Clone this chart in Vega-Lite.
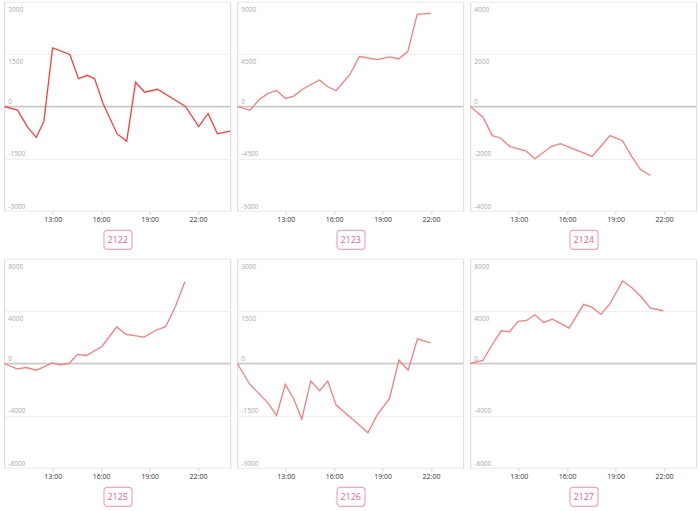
{
  "$schema": "https://vega.github.io/schema/vega-lite/v6.json",
  "padding": {"left": 2, "top": 1, "right": 0, "bottom": 0},
  "background": "white",
  "config": {
    "view": {"stroke": "#e0e0e0", "strokeWidth": 1.2},
    "font": "Open Sans",
    "axis": {"title": null, "labelFont": "Open Sans"}
  },
  "datasets": {
    "s": [
      {"p": "2122", "t": 10.0, "v": 0}, {"p": "2122", "t": 10.82, "v": -105}, {"p": "2122", "t": 11.44, "v": -590}, {"p": "2122", "t": 11.98, "v": -885}, {"p": "2122", "t": 12.45, "v": -428}, {"p": "2122", "t": 12.99, "v": 1685}, {"p": "2122", "t": 14.06, "v": 1495}, {"p": "2122", "t": 14.59, "v": 800}, {"p": "2122", "t": 15.15, "v": 895}, {"p": "2122", "t": 15.6, "v": 790}, {"p": "2122", "t": 16.11, "v": 95}, {"p": "2122", "t": 16.98, "v": -780}, {"p": "2122", "t": 17.58, "v": -1000}, {"p": "2122", "t": 18.13, "v": 695}, {"p": "2122", "t": 18.69, "v": 410}, {"p": "2122", "t": 19.49, "v": 495}, {"p": "2122", "t": 21.22, "v": 0}, {"p": "2122", "t": 22.04, "v": -580}, {"p": "2122", "t": 22.62, "v": -200}, {"p": "2122", "t": 23.2, "v": -780}, {"p": "2122", "t": 24.0, "v": -705},
      {"p": "2123", "t": 10.0, "v": 0}, {"p": "2123", "t": 10.78, "v": -317}, {"p": "2123", "t": 11.34, "v": 577}, {"p": "2123", "t": 11.91, "v": 1125}, {"p": "2123", "t": 12.43, "v": 1385}, {"p": "2123", "t": 12.99, "v": 692}, {"p": "2123", "t": 13.5, "v": 894}, {"p": "2123", "t": 14.01, "v": 1471}, {"p": "2123", "t": 15.09, "v": 2279}, {"p": "2123", "t": 15.6, "v": 1702}, {"p": "2123", "t": 16.11, "v": 1356}, {"p": "2123", "t": 16.96, "v": 2740}, {"p": "2123", "t": 17.56, "v": 4300}, {"p": "2123", "t": 18.69, "v": 4040}, {"p": "2123", "t": 19.43, "v": 4270}, {"p": "2123", "t": 19.99, "v": 4097}, {"p": "2123", "t": 20.56, "v": 4730}, {"p": "2123", "t": 21.14, "v": 7934}, {"p": "2123", "t": 21.98, "v": 8020},
      {"p": "2124", "t": 10.0, "v": 0}, {"p": "2124", "t": 10.78, "v": -410}, {"p": "2124", "t": 11.36, "v": -1115}, {"p": "2124", "t": 11.87, "v": -1205}, {"p": "2124", "t": 12.43, "v": -1525}, {"p": "2124", "t": 13.46, "v": -1705}, {"p": "2124", "t": 13.99, "v": -2000}, {"p": "2124", "t": 15.04, "v": -1525}, {"p": "2124", "t": 15.58, "v": -1425}, {"p": "2124", "t": 17.54, "v": -1910}, {"p": "2124", "t": 18.65, "v": -1115}, {"p": "2124", "t": 19.43, "v": -1310}, {"p": "2124", "t": 20.01, "v": -1925}, {"p": "2124", "t": 20.56, "v": -2425}, {"p": "2124", "t": 21.16, "v": -2640},
      {"p": "2125", "t": 10.0, "v": 0}, {"p": "2125", "t": 10.78, "v": -410}, {"p": "2125", "t": 11.36, "v": -308}, {"p": "2125", "t": 11.96, "v": -513}, {"p": "2125", "t": 12.43, "v": -282}, {"p": "2125", "t": 12.94, "v": 51}, {"p": "2125", "t": 13.46, "v": -103}, {"p": "2125", "t": 14.01, "v": 0}, {"p": "2125", "t": 14.53, "v": 692}, {"p": "2125", "t": 15.08, "v": 615}, {"p": "2125", "t": 16.03, "v": 1282}, {"p": "2125", "t": 16.96, "v": 2795}, {"p": "2125", "t": 17.54, "v": 2230}, {"p": "2125", "t": 18.65, "v": 2025}, {"p": "2125", "t": 19.43, "v": 2564}, {"p": "2125", "t": 19.99, "v": 2820}, {"p": "2125", "t": 20.58, "v": 4307}, {"p": "2125", "t": 21.18, "v": 6256},
      {"p": "2126", "t": 10.0, "v": 0}, {"p": "2126", "t": 10.78, "v": -602}, {"p": "2126", "t": 11.92, "v": -1146}, {"p": "2126", "t": 12.43, "v": -1490}, {"p": "2126", "t": 12.97, "v": -602}, {"p": "2126", "t": 13.49, "v": -1012}, {"p": "2126", "t": 13.99, "v": -1595}, {"p": "2126", "t": 14.55, "v": -506}, {"p": "2126", "t": 15.09, "v": -783}, {"p": "2126", "t": 15.6, "v": -506}, {"p": "2126", "t": 16.12, "v": -1194}, {"p": "2126", "t": 17.27, "v": -1652}, {"p": "2126", "t": 18.09, "v": -1986}, {"p": "2126", "t": 18.65, "v": -1490}, {"p": "2126", "t": 19.43, "v": -1003}, {"p": "2126", "t": 20.01, "v": 95}, {"p": "2126", "t": 20.58, "v": -191}, {"p": "2126", "t": 21.16, "v": 707}, {"p": "2126", "t": 21.96, "v": 592},
      {"p": "2127", "t": 10.0, "v": 0}, {"p": "2127", "t": 10.78, "v": 230}, {"p": "2127", "t": 11.36, "v": 1457}, {"p": "2127", "t": 11.91, "v": 2505}, {"p": "2127", "t": 12.43, "v": 2428}, {"p": "2127", "t": 12.96, "v": 3220}, {"p": "2127", "t": 13.48, "v": 3297}, {"p": "2127", "t": 13.99, "v": 3732}, {"p": "2127", "t": 14.55, "v": 3144}, {"p": "2127", "t": 15.09, "v": 3399}, {"p": "2127", "t": 16.12, "v": 2709}, {"p": "2127", "t": 17.02, "v": 4524}, {"p": "2127", "t": 17.56, "v": 4294}, {"p": "2127", "t": 18.09, "v": 3757}, {"p": "2127", "t": 18.65, "v": 4575}, {"p": "2127", "t": 19.43, "v": 6313}, {"p": "2127", "t": 20.01, "v": 5802}, {"p": "2127", "t": 20.58, "v": 5112}, {"p": "2127", "t": 21.16, "v": 4243}, {"p": "2127", "t": 21.96, "v": 4038}
    ]
  },
  "columns": 3,
  "spacing": {"column": 3, "row": 8},
  "concat": [
    {
      "spacing": 5, "center": true,
      "vconcat": [
        {
          "width": 226, "height": 209,
          "layer": [
            {"data": {"values": [{}]}, "mark": {"type": "rule", "color": "#c8c8c8", "strokeWidth": 1.5}, "encoding": {"y": {"datum": 0, "type": "quantitative", "scale": {"domain": [-3000, 3000], "nice": false, "zero": false}}}},
            {"data": {"name": "s"}, "transform": [{"filter": "datum.p == '2122'"}], "mark": {"type": "line", "color": "#ff3d3d", "strokeWidth": 1.3, "clip": true},
              "encoding": {
                "x": {"field": "t", "type": "quantitative", "scale": {"domain": [10, 24], "nice": false, "zero": false}, "axis": {"values": [13, 16, 19, 22], "labelExpr": "datum.value + ':00'", "grid": false, "domain": false, "tickSize": 3, "tickColor": "#d0d0d0", "labelFontSize": 7, "labelColor": "#333", "labelPadding": 1.5, "labelFlush": false, "labelOverlap": false}},
                "y": {"field": "v", "type": "quantitative", "scale": {"domain": [-3000, 3000], "nice": false, "zero": false}, "axis": {"values": [-3000, -2250, -1500, -750, 0, 750, 1500, 2250, 3000], "labelExpr": "datum.value % 1500 === 0 ? '' + datum.value : ''", "grid": true, "gridColor": "#f0f0f0", "ticks": false, "domain": false, "labelAlign": "left", "labelPadding": -3.5, "labelBaseline": "alphabetic", "labelOffset": {"condition": {"test": "datum.value > 0", "value": 9}, "value": -3}, "labelFontSize": 6.5, "labelColor": "#aaa", "labelOverlap": false, "labelFlush": false}}
              }}
          ]
        },
        {"width": 28, "height": 19, "view": {"stroke": "#f7a3c0", "cornerRadius": 3, "strokeWidth": 1.2}, "data": {"values": [{"label": "2122"}]}, "mark": {"type": "text", "color": "#ee5f92", "fontSize": 9}, "encoding": {"text": {"field": "label"}}}
      ]
    },
    {
      "spacing": 5, "center": true,
      "vconcat": [
        {
          "width": 226, "height": 209,
          "layer": [
            {"data": {"values": [{}]}, "mark": {"type": "rule", "color": "#c8c8c8", "strokeWidth": 1.5}, "encoding": {"y": {"datum": 0, "type": "quantitative", "scale": {"domain": [-9000, 9000], "nice": false, "zero": false}}}},
            {"data": {"name": "s"}, "transform": [{"filter": "datum.p == '2123'"}], "mark": {"type": "line", "color": "#ff7b7b", "strokeWidth": 1.3, "clip": true},
              "encoding": {
                "x": {"field": "t", "type": "quantitative", "scale": {"domain": [10, 24], "nice": false, "zero": false}, "axis": {"values": [13, 16, 19, 22], "labelExpr": "datum.value + ':00'", "grid": false, "domain": false, "tickSize": 3, "tickColor": "#d0d0d0", "labelFontSize": 7, "labelColor": "#333", "labelPadding": 1.5, "labelFlush": false, "labelOverlap": false}},
                "y": {"field": "v", "type": "quantitative", "scale": {"domain": [-9000, 9000], "nice": false, "zero": false}, "axis": {"values": [-9000, -6750, -4500, -2250, 0, 2250, 4500, 6750, 9000], "labelExpr": "datum.value % 4500 === 0 ? '' + datum.value : ''", "grid": true, "gridColor": "#f0f0f0", "ticks": false, "domain": false, "labelAlign": "left", "labelPadding": -3.5, "labelBaseline": "alphabetic", "labelOffset": {"condition": {"test": "datum.value > 0", "value": 9}, "value": -3}, "labelFontSize": 6.5, "labelColor": "#aaa", "labelOverlap": false, "labelFlush": false}}
              }}
          ]
        },
        {"width": 28, "height": 19, "view": {"stroke": "#f7a3c0", "cornerRadius": 3, "strokeWidth": 1.2}, "data": {"values": [{"label": "2123"}]}, "mark": {"type": "text", "color": "#ee5f92", "fontSize": 9}, "encoding": {"text": {"field": "label"}}}
      ]
    },
    {
      "spacing": 5, "center": true,
      "vconcat": [
        {
          "width": 226, "height": 209,
          "layer": [
            {"data": {"values": [{}]}, "mark": {"type": "rule", "color": "#c8c8c8", "strokeWidth": 1.5}, "encoding": {"y": {"datum": 0, "type": "quantitative", "scale": {"domain": [-4000, 4000], "nice": false, "zero": false}}}},
            {"data": {"name": "s"}, "transform": [{"filter": "datum.p == '2124'"}], "mark": {"type": "line", "color": "#ff7b7b", "strokeWidth": 1.3, "clip": true},
              "encoding": {
                "x": {"field": "t", "type": "quantitative", "scale": {"domain": [10, 24], "nice": false, "zero": false}, "axis": {"values": [13, 16, 19, 22], "labelExpr": "datum.value + ':00'", "grid": false, "domain": false, "tickSize": 3, "tickColor": "#d0d0d0", "labelFontSize": 7, "labelColor": "#333", "labelPadding": 1.5, "labelFlush": false, "labelOverlap": false}},
                "y": {"field": "v", "type": "quantitative", "scale": {"domain": [-4000, 4000], "nice": false, "zero": false}, "axis": {"values": [-4000, -3000, -2000, -1000, 0, 1000, 2000, 3000, 4000], "labelExpr": "datum.value % 2000 === 0 ? '' + datum.value : ''", "grid": true, "gridColor": "#f0f0f0", "ticks": false, "domain": false, "labelAlign": "left", "labelPadding": -3.5, "labelBaseline": "alphabetic", "labelOffset": {"condition": {"test": "datum.value > 0", "value": 9}, "value": -3}, "labelFontSize": 6.5, "labelColor": "#aaa", "labelOverlap": false, "labelFlush": false}}
              }}
          ]
        },
        {"width": 28, "height": 19, "view": {"stroke": "#f7a3c0", "cornerRadius": 3, "strokeWidth": 1.2}, "data": {"values": [{"label": "2124"}]}, "mark": {"type": "text", "color": "#ee5f92", "fontSize": 9}, "encoding": {"text": {"field": "label"}}}
      ]
    },
    {
      "spacing": 5, "center": true,
      "vconcat": [
        {
          "width": 226, "height": 209,
          "layer": [
            {"data": {"values": [{}]}, "mark": {"type": "rule", "color": "#c8c8c8", "strokeWidth": 1.5}, "encoding": {"y": {"datum": 0, "type": "quantitative", "scale": {"domain": [-8000, 8000], "nice": false, "zero": false}}}},
            {"data": {"name": "s"}, "transform": [{"filter": "datum.p == '2125'"}], "mark": {"type": "line", "color": "#ff7b7b", "strokeWidth": 1.3, "clip": true},
              "encoding": {
                "x": {"field": "t", "type": "quantitative", "scale": {"domain": [10, 24], "nice": false, "zero": false}, "axis": {"values": [13, 16, 19, 22], "labelExpr": "datum.value + ':00'", "grid": false, "domain": false, "tickSize": 3, "tickColor": "#d0d0d0", "labelFontSize": 7, "labelColor": "#333", "labelPadding": 1.5, "labelFlush": false, "labelOverlap": false}},
                "y": {"field": "v", "type": "quantitative", "scale": {"domain": [-8000, 8000], "nice": false, "zero": false}, "axis": {"values": [-8000, -6000, -4000, -2000, 0, 2000, 4000, 6000, 8000], "labelExpr": "datum.value % 4000 === 0 ? '' + datum.value : ''", "grid": true, "gridColor": "#f0f0f0", "ticks": false, "domain": false, "labelAlign": "left", "labelPadding": -3.5, "labelBaseline": "alphabetic", "labelOffset": {"condition": {"test": "datum.value > 0", "value": 9}, "value": -3}, "labelFontSize": 6.5, "labelColor": "#aaa", "labelOverlap": false, "labelFlush": false}}
              }}
          ]
        },
        {"width": 28, "height": 19, "view": {"stroke": "#f7a3c0", "cornerRadius": 3, "strokeWidth": 1.2}, "data": {"values": [{"label": "2125"}]}, "mark": {"type": "text", "color": "#ee5f92", "fontSize": 9}, "encoding": {"text": {"field": "label"}}}
      ]
    },
    {
      "spacing": 5, "center": true,
      "vconcat": [
        {
          "width": 226, "height": 209,
          "layer": [
            {"data": {"values": [{}]}, "mark": {"type": "rule", "color": "#c8c8c8", "strokeWidth": 1.5}, "encoding": {"y": {"datum": 0, "type": "quantitative", "scale": {"domain": [-3000, 3000], "nice": false, "zero": false}}}},
            {"data": {"name": "s"}, "transform": [{"filter": "datum.p == '2126'"}], "mark": {"type": "line", "color": "#ff7b7b", "strokeWidth": 1.3, "clip": true},
              "encoding": {
                "x": {"field": "t", "type": "quantitative", "scale": {"domain": [10, 24], "nice": false, "zero": false}, "axis": {"values": [13, 16, 19, 22], "labelExpr": "datum.value + ':00'", "grid": false, "domain": false, "tickSize": 3, "tickColor": "#d0d0d0", "labelFontSize": 7, "labelColor": "#333", "labelPadding": 1.5, "labelFlush": false, "labelOverlap": false}},
                "y": {"field": "v", "type": "quantitative", "scale": {"domain": [-3000, 3000], "nice": false, "zero": false}, "axis": {"values": [-3000, -2250, -1500, -750, 0, 750, 1500, 2250, 3000], "labelExpr": "datum.value % 1500 === 0 ? '' + datum.value : ''", "grid": true, "gridColor": "#f0f0f0", "ticks": false, "domain": false, "labelAlign": "left", "labelPadding": -3.5, "labelBaseline": "alphabetic", "labelOffset": {"condition": {"test": "datum.value > 0", "value": 9}, "value": -3}, "labelFontSize": 6.5, "labelColor": "#aaa", "labelOverlap": false, "labelFlush": false}}
              }}
          ]
        },
        {"width": 28, "height": 19, "view": {"stroke": "#f7a3c0", "cornerRadius": 3, "strokeWidth": 1.2}, "data": {"values": [{"label": "2126"}]}, "mark": {"type": "text", "color": "#ee5f92", "fontSize": 9}, "encoding": {"text": {"field": "label"}}}
      ]
    },
    {
      "spacing": 5, "center": true,
      "vconcat": [
        {
          "width": 226, "height": 209,
          "layer": [
            {"data": {"values": [{}]}, "mark": {"type": "rule", "color": "#c8c8c8", "strokeWidth": 1.5}, "encoding": {"y": {"datum": 0, "type": "quantitative", "scale": {"domain": [-8000, 8000], "nice": false, "zero": false}}}},
            {"data": {"name": "s"}, "transform": [{"filter": "datum.p == '2127'"}], "mark": {"type": "line", "color": "#ff7b7b", "strokeWidth": 1.3, "clip": true},
              "encoding": {
                "x": {"field": "t", "type": "quantitative", "scale": {"domain": [10, 24], "nice": false, "zero": false}, "axis": {"values": [13, 16, 19, 22], "labelExpr": "datum.value + ':00'", "grid": false, "domain": false, "tickSize": 3, "tickColor": "#d0d0d0", "labelFontSize": 7, "labelColor": "#333", "labelPadding": 1.5, "labelFlush": false, "labelOverlap": false}},
                "y": {"field": "v", "type": "quantitative", "scale": {"domain": [-8000, 8000], "nice": false, "zero": false}, "axis": {"values": [-8000, -6000, -4000, -2000, 0, 2000, 4000, 6000, 8000], "labelExpr": "datum.value % 4000 === 0 ? '' + datum.value : ''", "grid": true, "gridColor": "#f0f0f0", "ticks": false, "domain": false, "labelAlign": "left", "labelPadding": -3.5, "labelBaseline": "alphabetic", "labelOffset": {"condition": {"test": "datum.value > 0", "value": 9}, "value": -3}, "labelFontSize": 6.5, "labelColor": "#aaa", "labelOverlap": false, "labelFlush": false}}
              }}
          ]
        },
        {"width": 28, "height": 19, "view": {"stroke": "#f7a3c0", "cornerRadius": 3, "strokeWidth": 1.2}, "data": {"values": [{"label": "2127"}]}, "mark": {"type": "text", "color": "#ee5f92", "fontSize": 9}, "encoding": {"text": {"field": "label"}}}
      ]
    }
  ]
}
